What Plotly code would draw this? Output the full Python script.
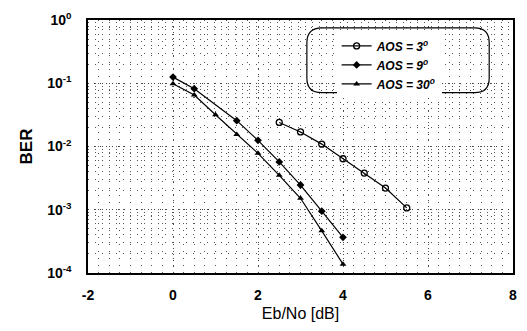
import plotly.graph_objects as go

# data
x_3 = [2.5, 3.0, 3.5, 4.0, 4.5, 5.0, 5.5]
ber_3 = [0.024, 0.017, 0.0109, 0.0064, 0.0038, 0.0022, 0.00107]
x_9 = [0, 0.5, 1.5, 2.0, 2.5, 3.0, 3.5, 4.0]
ber_9 = [0.125, 0.082, 0.0256, 0.0125, 0.0057, 0.00246, 0.00095, 0.000366]
x_30 = [0, 0.5, 1.0, 1.5, 2.0, 2.5, 3.0, 3.5, 4.0]
ber_30 = [0.098, 0.065, 0.0317, 0.0155, 0.0078, 0.0035, 0.00152, 0.000464, 0.000138]
names = ["<i><b>AOS = 3<sup>o</sup></b></i>", "<i><b>AOS = 9<sup>o</sup></b></i>", "<i><b>AOS = 30<sup>o</sup></b></i>"]
x_ticks = [-2, 0, 2, 4, 6, 8]
y_ticks = [1e-4, 1e-3, 1e-2, 1e-1, 1]
y_ticktext = ["<b>10<sup>-4</sup></b>", "<b>10<sup>-3</sup></b>", "<b>10<sup>-2</sup></b>",
              "<b>10<sup>-1</sup></b>", "<b>10<sup>0</sup></b>"]

fig = go.Figure()
fig.add_trace(go.Scatter(x=x_3, y=ber_3, name=names[0], mode="lines+markers",
                         line=dict(color="black", width=1.2),
                         marker=dict(symbol="circle-open", size=6, color="black", line=dict(width=1.3))))
fig.add_trace(go.Scatter(x=x_9, y=ber_9, name=names[1], mode="lines+markers",
                         line=dict(color="black", width=1.2),
                         marker=dict(symbol="diamond", size=6, color="black")))
fig.add_trace(go.Scatter(x=x_30, y=ber_30, name=names[2], mode="lines+markers",
                         line=dict(color="black", width=1.2),
                         marker=dict(symbol="triangle-up", size=6, color="black")))

fig.update_layout(
    width=527, height=331,
    margin=dict(l=88, r=10, t=15, b=58),
    paper_bgcolor="white", plot_bgcolor="white",
    font=dict(family="Liberation Sans, Arial, sans-serif", color="black"),
    showlegend=True,
    legend=dict(x=0.585, y=0.955, xanchor="left", yanchor="top",
                bgcolor="rgba(255,255,255,1)", borderwidth=0,
                font=dict(size=12), tracegroupgap=0),
)
# rounded legend frame
fig.add_shape(type="path", xref="paper", yref="paper", layer="above",
              path="M 0.55,0.969 L 0.91,0.969 Q 0.944,0.969 0.944,0.91 L 0.944,0.77 Q 0.944,0.713 0.91,0.713 "
                   "L 0.55,0.713 Q 0.515,0.713 0.515,0.77 L 0.515,0.91 Q 0.515,0.969 0.55,0.969 Z",
              line=dict(color="black", width=1.2))

fig.update_xaxes(range=[-2, 8], tickvals=x_ticks, ticktext=["<b>%d</b>" % v for v in x_ticks],
                 tickfont=dict(size=14),
                 ticklabelstandoff=8,
                 title=dict(text="Eb/No [dB]", font=dict(size=16), standoff=6),
                 showline=True, linecolor="black", linewidth=1.5, mirror=True,
                 ticks="", showgrid=True, gridcolor="#444", griddash="1px,5px", gridwidth=1,
                 minor=dict(dtick=0.25, showgrid=True, gridcolor="#555", griddash="1px,6px", gridwidth=1),
                 zeroline=False)
fig.update_yaxes(type="log", range=[-4, 0], tickvals=y_ticks, ticktext=y_ticktext,
                 tickfont=dict(size=14),
                 ticklabelstandoff=12,
                 title=dict(text="<b>BER</b>", font=dict(size=17), standoff=10),
                 showline=True, linecolor="black", linewidth=1.5, mirror=True,
                 ticks="", showgrid=True, gridcolor="#444", griddash="1px,5px", gridwidth=1,
                 minor=dict(dtick="D1", showgrid=True, gridcolor="#555", griddash="1px,6px", gridwidth=1),
                 zeroline=False)

fig.write_html("out.html")
